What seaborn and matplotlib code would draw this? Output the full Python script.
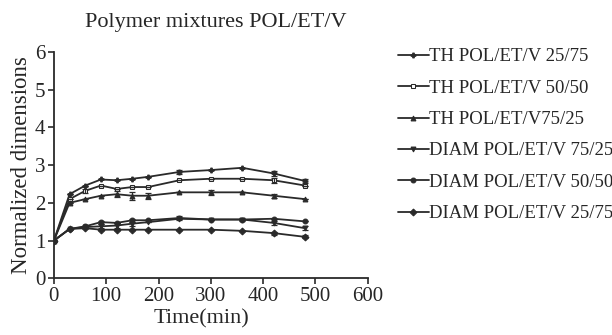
import matplotlib
matplotlib.use('Agg')
import matplotlib.pyplot as plt
import seaborn as sns
import pandas as pd

# Datos
tiempo = [0, 30, 60, 90, 120, 150, 180, 240, 300, 360, 420, 480]

th_25_75 = [1.0, 2.23, 2.46, 2.62, 2.60, 2.64, 2.69, 2.82, 2.87, 2.93, 2.78, 2.58]
th_50_50 = [1.0, 2.10, 2.32, 2.46, 2.37, 2.42, 2.42, 2.60, 2.64, 2.64, 2.60, 2.46]
th_75_25 = [1.0, 2.00, 2.10, 2.19, 2.23, 2.19, 2.19, 2.28, 2.28, 2.28, 2.19, 2.10]
diam_75_25 = [1.0, 1.31, 1.36, 1.38, 1.40, 1.45, 1.49, 1.58, 1.56, 1.56, 1.47, 1.33]
diam_50_50 = [1.0, 1.31, 1.38, 1.49, 1.47, 1.54, 1.54, 1.60, 1.56, 1.56, 1.58, 1.51]
diam_25_75 = [1.0, 1.31, 1.33, 1.29, 1.29, 1.29, 1.29, 1.29, 1.29, 1.26, 1.20, 1.10]

# Barras de error (pequeñas, estimadas)
err_th_25_75 = [0, 0, 0, 0, 0, 0, 0, 0.06, 0, 0, 0.06, 0.05]
err_th_50_50 = [0, 0, 0.06, 0, 0, 0, 0, 0, 0, 0, 0.07, 0]
err_th_75_25 = [0, 0, 0, 0, 0.08, 0.10, 0.08, 0, 0.07, 0, 0.05, 0]
err_diam_75_25 = [0, 0, 0, 0.05, 0.07, 0.05, 0, 0, 0, 0, 0.05, 0.05]
err_diam_50_50 = [0, 0, 0, 0.04, 0, 0.04, 0, 0.04, 0, 0.04, 0, 0]
err_diam_25_75 = [0, 0, 0, 0, 0, 0, 0, 0, 0, 0, 0.04, 0.04]

etiquetas = ['TH POL/ET/V 25/75', 'TH POL/ET/V 50/50', 'TH POL/ET/V75/25',
             'DIAM POL/ET/V 75/25', 'DIAM POL/ET/V 50/50', 'DIAM POL/ET/V 25/75']
series = [th_25_75, th_50_50, th_75_25, diam_75_25, diam_50_50, diam_25_75]
errores = [err_th_25_75, err_th_50_50, err_th_75_25,
           err_diam_75_25, err_diam_50_50, err_diam_25_75]
marcadores = ['P', 's', '^', 'v', 'o', 'D']
color = '#2a2a2a'

sns.set_style('ticks')
plt.rcParams['font.family'] = ['Liberation Serif', 'DejaVu Serif']

df = pd.concat([pd.DataFrame({'Tiempo': tiempo, 'Valor': s, 'Serie': e})
                for s, e in zip(series, etiquetas)])

fig = plt.figure(figsize=(6.12, 3.35), dpi=100)
ax = fig.add_axes([0.088, 0.169, 0.513, 0.676])

sns.lineplot(data=df, x='Tiempo', y='Valor', hue='Serie', style='Serie',
             markers=marcadores, dashes=False, palette=[color] * 6,
             markersize=3.5, linewidth=1.3, markeredgecolor=color,
             ax=ax, legend=True)

for s, e in zip(series, errores):
    ax.errorbar(tiempo, s, yerr=e, fmt='none', ecolor=color,
                elinewidth=0.9, capsize=2.2, capthick=0.9)

# Marcador cuadrado hueco para TH 50/50
for linea in ax.get_lines():
    if linea.get_marker() == 's':
        linea.set_markerfacecolor('white')

ax.set_xlim(0, 600)
ax.set_ylim(0, 6)
ax.set_xticks(range(0, 601, 100))
ax.set_yticks(range(0, 7))
ax.tick_params(labelsize=15, direction='out', length=4, width=1.2,
               color=color, pad=2)
sns.despine(ax=ax)
for sp in ['left', 'bottom']:
    ax.spines[sp].set_color(color)
    ax.spines[sp].set_linewidth(1.3)

ax.set_xlabel('Time(min)', fontsize=16, labelpad=0)
ax.xaxis.set_label_coords(0.47, -0.135, transform=ax.transAxes)
ax.xaxis.label.set_va('top')
ax.set_ylabel('Normalized dimensions', fontsize=16.5, labelpad=2)
fig.text(0.353, 0.934, 'Polymer mixtures POL/ET/V', fontsize=16,
         ha='center', va='center')

leg = ax.legend(loc='upper left', bbox_to_anchor=(0.650, 0.856),
                bbox_transform=fig.transFigure, frameon=False,
                fontsize=13.5, handlelength=1.65, handletextpad=0.0,
                labelspacing=0.76, borderaxespad=0, borderpad=0)
for h in leg.legend_handles:
    h.set_color(color)
    h.set_linewidth(1.3)
    if h.get_marker() == 's':
        h.set_markerfacecolor('white')

fig.savefig('out.png', dpi=100)
